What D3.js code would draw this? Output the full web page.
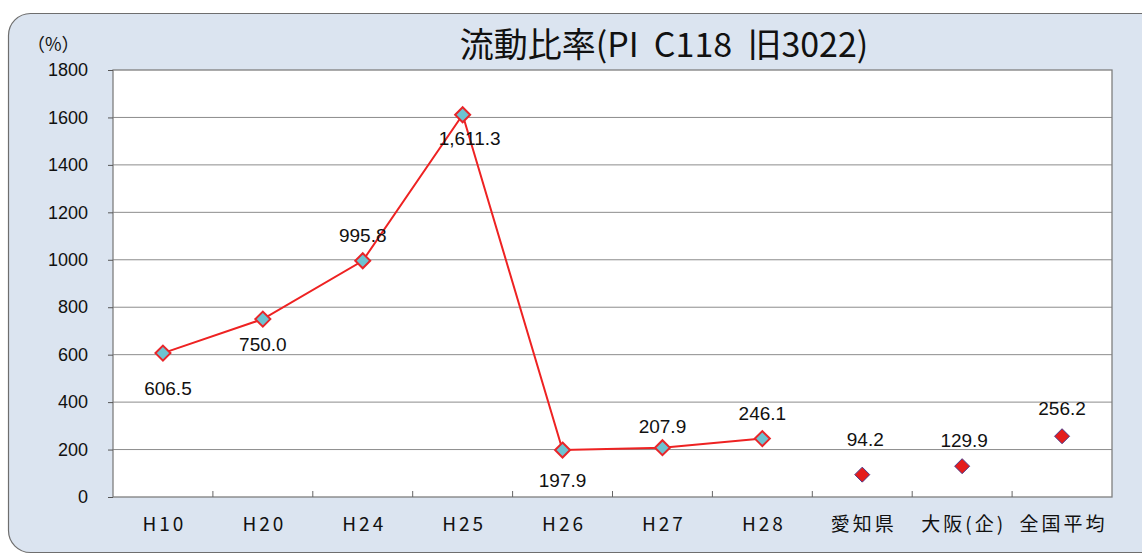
<!DOCTYPE html>
<html><head><meta charset="utf-8">
<script src="https://cdn.jsdelivr.net/npm/d3@7"></script>
<style>html,body{margin:0;padding:0;background:#fff;}svg{display:block;}</style>
</head><body>
<svg id="c" width="1142" height="556"></svg>
<script>
const categories = ["H10","H20","H24","H25","H26","H27","H28","愛知県","大阪(企)","全国平均"];
const lineValues = [606.5, 750.0, 995.8, 1611.3, 197.9, 207.9, 246.1];
const compareCats = ["愛知県","大阪(企)","全国平均"];
const compareValues = [94.2, 129.9, 256.2];
const yTicks = [0,200,400,600,800,1000,1200,1400,1600,1800];
const title = "流動比率(PI\u00a0\u00a0C118\u00a0\u00a0旧3022)";
// label layout (pixel offsets from the marker), kept apart from data
const lineLabelOffsets = [[5,42],[0,32],[0,-19],[7,30],[0,37],[0,-15],[0,-19]];
const compareLabelOffsets = [[3,-29],[2,-19],[0,-21]];

const svg = d3.select("#c");
const M = {l:113, r:1112, t:70, b:497};
svg.append("rect").attr("x",8.5).attr("y",13.5).attr("width",1160).attr("height",539)
  .attr("rx",22).attr("fill","#dbe4f0").attr("stroke","#6e6e6e").attr("stroke-width",1.2);

const x = d3.scaleBand().domain(categories).range([M.l,M.r]);
const y = d3.scaleLinear().domain([0,1800]).range([M.b,M.t]);

svg.append("rect").attr("x",M.l).attr("y",M.t).attr("width",M.r-M.l).attr("height",M.b-M.t)
  .attr("fill","#fff");
svg.append("g").selectAll("line").data(yTicks.filter(d=>d>0&&d<1800)).join("line")
  .attr("x1",M.l).attr("x2",M.r).attr("y1",d=>y(d)).attr("y2",d=>y(d))
  .attr("stroke","#8c8c8c").attr("stroke-width",1);
svg.append("rect").attr("x",M.l).attr("y",M.t).attr("width",M.r-M.l).attr("height",M.b-M.t)
  .attr("fill","none").attr("stroke","#7f7f7f").attr("stroke-width",1.3);

const yAxis = svg.append("g").attr("transform",`translate(${M.l},0)`)
  .call(d3.axisLeft(y).tickValues(yTicks).tickFormat(d3.format("d")).tickSize(5).tickPadding(20));
yAxis.select(".domain").remove();
yAxis.selectAll(".tick line").attr("stroke","#555");
yAxis.selectAll("text").attr("font-family","Liberation Sans, Arial, sans-serif").attr("font-size",18).attr("fill","#111");

const xAxis = svg.append("g").attr("transform",`translate(0,${M.b})`)
  .call(d3.axisBottom(x).tickSize(0).tickPadding(0));
xAxis.select(".domain").remove();
xAxis.selectAll("text").attr("font-family","Noto Sans CJK JP, sans-serif").attr("font-size",19)
  .attr("letter-spacing","3px").attr("fill","#111").attr("dy",null).attr("y",34).attr("dx",1.5);
svg.append("g").selectAll("line").data(categories.slice(1)).join("line")
  .attr("x1",d=>x(d)).attr("x2",d=>x(d)).attr("y1",M.b).attr("y2",M.b-6)
  .attr("stroke","#666");

svg.append("text").attr("x",27).attr("y",51).text("（%）")
  .attr("font-family","Noto Sans CJK JP, sans-serif").attr("font-size",18).attr("fill","#111");
svg.append("text").attr("x",664).attr("y",57).attr("text-anchor","middle").text(title)
  .attr("font-family","Noto Sans CJK JP, sans-serif").attr("font-size",34).attr("fill","#111");

const cx = c => x(c)+x.bandwidth()/2;
const lineCats = categories.slice(0,lineValues.length);
svg.append("path").datum(lineValues)
  .attr("d", d3.line().x((d,i)=>cx(lineCats[i])).y(d=>y(d)))
  .attr("fill","none").attr("stroke","#ee2222").attr("stroke-width",2);

const diamond = r => `M0,${-r}L${r},0L0,${r}L${-r},0Z`;
svg.append("g").selectAll("path").data(lineValues).join("path")
  .attr("transform",(d,i)=>`translate(${cx(lineCats[i])},${y(d)})`)
  .attr("d",diamond(7.5)).attr("fill","#6cc3d1").attr("stroke","#e8262a").attr("stroke-width",2);
svg.append("g").selectAll("path").data(compareValues).join("path")
  .attr("transform",(d,i)=>`translate(${cx(compareCats[i])},${y(d)})`)
  .attr("d",diamond(7.5)).attr("fill","#e41c1c").attr("stroke","#4a3a8a").attr("stroke-width",1);

const fmt = d3.format(",.1f");
const lf = "Liberation Sans, Arial, sans-serif";
svg.append("g").selectAll("text").data(lineValues).join("text")
  .attr("x",(d,i)=>cx(lineCats[i])+lineLabelOffsets[i][0])
  .attr("y",(d,i)=>y(d)+lineLabelOffsets[i][1])
  .attr("text-anchor","middle").attr("font-family",lf).attr("font-size",19).attr("fill","#111")
  .text(d=>fmt(d));
svg.append("g").selectAll("text").data(compareValues).join("text")
  .attr("x",(d,i)=>cx(compareCats[i])+compareLabelOffsets[i][0])
  .attr("y",(d,i)=>y(d)+compareLabelOffsets[i][1])
  .attr("text-anchor","middle").attr("font-family",lf).attr("font-size",19).attr("fill","#111")
  .text(d=>fmt(d));
</script>
</body></html>
